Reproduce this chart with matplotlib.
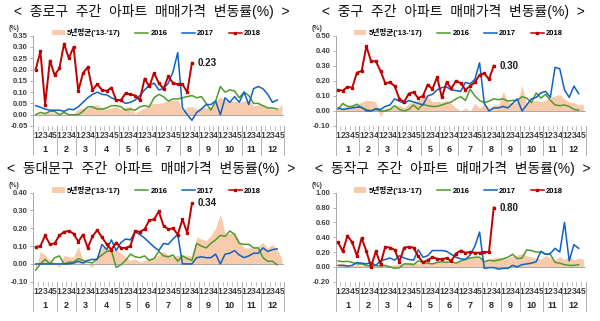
import numpy as np
import matplotlib
matplotlib.use("Agg")
import matplotlib.pyplot as plt
from matplotlib.lines import Line2D
from matplotlib.patches import Patch

plt.rcParams['font.family'] = ['Liberation Sans', 'Noto Sans CJK KR']

weeks_per_month = [5, 4, 4, 5, 4, 4, 5, 4, 4, 5, 4, 5]
month_labels = [str(m) for m in range(1, 13)]
week_labels = [str(w) for n in weeks_per_month for w in range(1, n + 1)]
legend_labels = ["5년평균('13-'17)", "2016", "2017", "2018"]

# 종로구
jongno_avg = [0.0, 0.005, 0.01, 0.012, 0.01, 0.005, 0.0, 0.0, 0.005, 0.025,
              0.03, 0.03, 0.04, 0.045, 0.03, 0.025, 0.03, 0.035, 0.025, 0.035,
              0.035, 0.005, 0.02, 0.03, 0.045, 0.05, 0.05, 0.055, 0.06, 0.065,
              0.065, 0.015, 0.035, 0.035, 0.025, 0.03, 0.03, 0.035, 0.06, 0.08,
              0.065, 0.06, 0.06, 0.055, 0.06, 0.065, 0.04, 0.045, 0.045, 0.035,
              0.025, 0.025, 0.045]
jongno_2016 = [0.0, 0.01, 0.005, 0.015, 0.015, 0.0, 0.01, 0.0, 0.0, 0.0,
               0.015, 0.035, 0.035, 0.025, 0.025, 0.03, 0.04, 0.04, 0.035, 0.02,
               0.025, 0.02, 0.035, 0.04, 0.035, 0.075, 0.09, 0.08, 0.06, 0.07,
               0.07, 0.075, 0.08, 0.085, 0.075, 0.08, 0.05, 0.02, 0.06, 0.125,
               0.10, 0.11, 0.105, 0.075, 0.10, 0.085, 0.05, 0.05, 0.04, 0.03,
               0.03, 0.025]
jongno_2017 = [0.04, 0.033, 0.025, 0.02, 0.02, 0.02, 0.015, 0.025, 0.022, 0.035,
               0.055, 0.075, 0.09, 0.10, 0.09, 0.088, 0.075, 0.065, 0.063, 0.05,
               0.055, 0.065, 0.085, 0.11, 0.13, 0.14, 0.11, 0.115, 0.14, 0.19,
               0.275, 0.03, 0.0, -0.025, 0.01, 0.025, 0.045, 0.045, 0.06, 0.0,
               0.075, 0.055, 0.08, 0.055, 0.10, 0.045, 0.115, 0.125, 0.115, 0.09,
               0.055, 0.065]
jongno_2018 = [0.20, 0.28, 0.045, 0.24, 0.175, 0.205, 0.315, 0.25, 0.30, 0.105,
               0.185, 0.21, 0.11, 0.135, 0.11, 0.105, 0.12, 0.065, 0.065, 0.095,
               0.09, 0.085, 0.065, 0.16, 0.125, 0.185, 0.14, 0.115, 0.17, 0.14,
               0.135, 0.135, 0.10, 0.23]

# 중구
junggu_avg = [0.01, 0.02, 0.03, 0.035, 0.04, 0.06, 0.07, 0.07, 0.06, -0.04,
              0.02, 0.02, 0.03, 0.04, 0.02, 0.05, 0.06, 0.07, 0.09, 0.10,
              0.06, 0.065, 0.06, 0.07, 0.05, 0.02, 0.0, 0.02, 0.0, 0.05,
              0.02, 0.05, 0.02, 0.04, 0.04, 0.13, 0.06, 0.05, 0.06, 0.17,
              0.05, 0.07, 0.07, 0.06, 0.07, 0.09, 0.10, 0.11, 0.08, 0.06,
              0.055, 0.04, 0.045]
junggu_2016 = [0.01, 0.05, 0.03, 0.03, 0.045, 0.02, 0.01, 0.0, 0.01, 0.0,
               0.0, 0.01, 0.035, 0.01, 0.0, 0.01, 0.04, 0.01, 0.045, 0.035,
               0.03, 0.03, 0.04, 0.05, 0.06, 0.08, 0.095, 0.07, 0.145, 0.10,
               0.07, 0.055, 0.065, 0.08, 0.075, 0.08, 0.065, 0.07, 0.07, 0.095,
               0.085, 0.055, 0.12, 0.085, 0.11, 0.07, 0.04, 0.035, 0.04, 0.03,
               0.01, 0.005]
junggu_2017 = [0.02, 0.01, 0.015, 0.02, 0.025, 0.025, 0.0, 0.0, 0.015, 0.01,
               0.03, 0.04, 0.08, 0.065, 0.05, 0.07, 0.06, 0.05, 0.04, 0.10,
               0.11, 0.14, 0.155, 0.16, 0.14, 0.135, 0.13, 0.19, 0.18, 0.21,
               0.32, 0.05, 0.0, 0.02, 0.02, 0.03, 0.02, 0.05, 0.08, 0.0,
               0.04, 0.08, 0.09, 0.12, 0.13, 0.09, 0.29, 0.28, 0.14, 0.09,
               0.165, 0.115]
junggu_2018 = [0.14, 0.135, 0.16, 0.155, 0.255, 0.265, 0.43, 0.33, 0.33, 0.265,
               0.185, 0.19, 0.165, 0.08, 0.06, 0.115, 0.125, 0.085, 0.10, 0.175,
               0.145, 0.225, 0.09, 0.19, 0.15, 0.20, 0.185, 0.14, 0.165, 0.19,
               0.24, 0.25, 0.21, 0.30]

# 동대문구
ddm_avg = [-0.03, 0.07, 0.05, 0.02, 0.01, -0.02, 0.05, 0.04, 0.04, 0.10,
           0.02, 0.0, -0.02, 0.05, 0.09, 0.10, 0.08, 0.08, 0.06, 0.04,
           0.02, 0.03, 0.01, 0.02, 0.03, 0.04, 0.05, 0.07, 0.05, 0.04,
           0.05, 0.05, 0.05, 0.04, 0.15, 0.14, 0.13, 0.16, 0.20, 0.28,
           0.17, 0.17, 0.18, 0.13, 0.09, 0.09, 0.09, 0.10, 0.12, 0.09,
           0.11, 0.08, 0.03]
ddm_2016 = [-0.035, 0.0, 0.025, 0.0, 0.035, 0.045, 0.0, 0.01, 0.01, 0.03,
            0.02, 0.01, 0.005, 0.03, 0.05, 0.07, 0.075, -0.02, -0.005, 0.02,
            0.055, 0.04, 0.035, 0.045, 0.02, 0.03, 0.07, 0.045, 0.04, 0.05,
            0.015, 0.045, 0.03, 0.02, 0.115, 0.10, 0.09, 0.115, 0.135, 0.16,
            0.155, 0.185, 0.165, 0.115, 0.11, 0.11, 0.09, 0.09, 0.035, 0.015,
            0.015, -0.005]
ddm_2017 = [0.0, 0.0, 0.0, 0.0, 0.0, 0.0, 0.0, 0.0, 0.005, 0.015,
            0.005, 0.02, 0.025, 0.025, 0.11, 0.08, 0.135, 0.075, 0.12, 0.14,
            0.135, 0.18, 0.165, 0.145, 0.12, 0.095, 0.075, 0.115, 0.11, 0.14,
            0.165, 0.0, 0.0, 0.0, 0.035, 0.04, 0.035, 0.035, 0.055, 0.0,
            0.055, 0.06, 0.075, 0.05, 0.035, 0.045, 0.06, 0.06, 0.09, 0.07,
            0.08, 0.085]
ddm_2018 = [0.095, 0.10, 0.16, 0.11, 0.115, 0.16, 0.18, 0.185, 0.17, 0.125,
            0.165, 0.09, 0.155, 0.19, 0.15, 0.11, 0.08, 0.12, 0.09, 0.09,
            0.10, 0.185, 0.18, 0.195, 0.245, 0.25, 0.295, 0.215, 0.195, 0.20,
            0.165, 0.25, 0.175, 0.34]

# 동작구
dongjak_avg = [0.04, 0.05, 0.03, 0.02, 0.03, 0.02, 0.02, 0.01, 0.02, 0.01,
               0.02, 0.02, 0.03, 0.04, 0.05, 0.06, 0.06, 0.05, 0.05, 0.06,
               0.05, 0.06, 0.07, 0.06, 0.04, 0.05, 0.09, 0.10, 0.12, 0.13,
               0.12, 0.08, 0.10, 0.12, 0.13, 0.11, 0.12, 0.14, 0.16, 0.18,
               0.15, 0.13, 0.12, 0.11, 0.15, 0.13, 0.10, 0.14, 0.10, 0.15,
               0.09, 0.12, 0.10]
dongjak_2016 = [0.08, 0.07, 0.075, 0.06, 0.04, 0.04, 0.02, 0.01, 0.02, 0.01,
                0.02, 0.0, -0.02, -0.01, 0.04, 0.04, 0.03, 0.08, 0.06, 0.05,
                0.04, 0.06, 0.07, 0.06, 0.07, 0.05, 0.08, 0.10, 0.12, 0.13,
                0.13, 0.07, 0.09, 0.08, 0.09, 0.11, 0.13, 0.17, 0.11, 0.12,
                0.23, 0.22, 0.20, 0.20, 0.17, 0.17, 0.06, 0.05, 0.03, 0.02,
                0.02, 0.03]
dongjak_2017 = [0.02, 0.02, 0.01, 0.02, 0.06, 0.05, 0.04, 0.06, 0.02, 0.08,
                0.10, 0.12, 0.09, 0.15, 0.12, 0.10, 0.09, 0.23, 0.13, 0.15,
                0.22, 0.22, 0.22, 0.21, 0.17, 0.13, 0.11, 0.10, 0.16, 0.28,
                0.47, -0.02, -0.01, -0.01, -0.03, -0.02, -0.02, 0.02, 0.0, 0.03,
                0.04, 0.05, 0.07, 0.21, 0.17, 0.18, 0.25, 0.20, 0.60, 0.08,
                0.30, 0.25]
dongjak_2018 = [0.33, 0.21, 0.42, 0.33, 0.15, 0.39, 0.21, 0.0, 0.21, 0.04,
                0.27, 0.26, 0.23, 0.07, 0.26, 0.27, 0.26, 0.14, 0.06, 0.09,
                0.13, 0.11, 0.10, 0.12, 0.08, 0.18, 0.22, 0.19, 0.20, 0.19,
                0.19, 0.20, 0.20, 0.80]

panels = [
    ("<  종로구  주간  아파트  매매가격  변동률(%)  >", jongno_avg, jongno_2016, jongno_2017, jongno_2018,
     [-0.05, 0.0, 0.05, 0.10, 0.15, 0.20, 0.25, 0.30, 0.35]),
    ("<  중구  주간  아파트  매매가격  변동률(%)  >", junggu_avg, junggu_2016, junggu_2017, junggu_2018,
     [-0.10, 0.0, 0.10, 0.20, 0.30, 0.40, 0.50]),
    ("<  동대문구  주간  아파트  매매가격  변동률(%)  >", ddm_avg, ddm_2016, ddm_2017, ddm_2018,
     [-0.10, 0.0, 0.10, 0.20, 0.30, 0.40]),
    ("<  동작구  주간  아파트  매매가격  변동률(%)  >", dongjak_avg, dongjak_2016, dongjak_2017, dongjak_2018,
     [-0.20, 0.0, 0.20, 0.40, 0.60, 0.80, 1.00]),
]

c_avg = '#F8CBAD'
c16 = '#4E9A2E'
c17 = '#0F62C0'
c18 = '#C00000'
gray = '#A6A6A6'

W, H = 600, 321
fig = plt.figure(figsize=(6, 3.21), dpi=100)
positions = [[0.0555, 0.6075, 0.4183, 0.2813], [0.5595, 0.6075, 0.4167, 0.2813],
             [0.0555, 0.1224, 0.4183, 0.2773], [0.5595, 0.1224, 0.4167, 0.2773]]
title_xy = [(0.2525, 0.965), (0.755, 0.965), (0.2525, 0.474), (0.755, 0.474)]

bounds = np.concatenate([[0], np.cumsum(weeks_per_month)]) - 0.5
centers = (bounds[:-1] + bounds[1:]) / 2

for i, (title, avg, y16, y17, y18, yticks) in enumerate(panels):
    ax = fig.add_axes(positions[i])
    ax_h = positions[i][3] * H
    ax.fill_between(range(len(avg)), avg, 0, color=c_avg, lw=0, zorder=1)
    ax.plot(range(len(y16)), y16, color=c16, lw=1.1, zorder=3)
    ax.plot(range(len(y17)), y17, color=c17, lw=1.1, zorder=4)
    ax.plot(range(len(y18)), y18, color=c18, lw=1.4, marker='s', ms=2.0, zorder=5)
    ax.axhline(0, color=gray, lw=0.7, zorder=2)

    ax.set_xlim(-0.5, 52.5)
    ax.set_ylim(yticks[0], yticks[-1])
    ax.set_yticks(yticks)
    ax.set_yticklabels(["%.2f" % v for v in yticks], fontsize=5.5, fontweight='bold', color='#404040')
    ax.tick_params(axis='y', length=2.5, width=0.6, color=gray, pad=1.5)
    ax.set_xticks(range(53))
    ax.set_xticklabels(week_labels, fontsize=6.2, fontweight='bold', color='#404040')
    ax.tick_params(axis='x', length=0, pad=3.5)
    for s in ['top', 'right', 'bottom']:
        ax.spines[s].set_visible(False)
    ax.spines['left'].set_color(gray)
    ax.spines['left'].set_linewidth(0.7)

    tr = ax.get_xaxis_transform()
    for b in np.arange(-0.5, 53, 1.0):
        ax.plot([b, b], [0, -4 / ax_h], color=gray, lw=0.5, transform=tr, clip_on=False)
    for b in bounds:
        ax.plot([b, b], [0, -29 / ax_h], color=gray, lw=0.6, transform=tr, clip_on=False)
    for c, m in zip(centers, month_labels):
        ax.text(c, -24 / ax_h, m, transform=tr, ha='center', va='center',
                fontsize=6.5, fontweight='bold', color='#262626')

    ax.text(-0.075, 1.085, "(%)", transform=ax.transAxes, ha='center', va='center',
            fontsize=5, fontweight='bold', color='#404040')

    last = len(y18) - 1
    ax.annotate("%.2f" % y18[last], xy=(last, y18[last]), xytext=(4, 0),
                textcoords='offset points', ha='left', va='center',
                fontsize=7, fontweight='bold', color='#1a1a1a')

    handles = [Patch(facecolor=c_avg, edgecolor='none'),
               Line2D([], [], color=c16, lw=1.1),
               Line2D([], [], color=c17, lw=1.1),
               Line2D([], [], color=c18, lw=1.1, marker='s', ms=2.0)]
    ax.legend(handles, legend_labels, ncol=4, loc='center', bbox_to_anchor=(0.49, 1.03),
              frameon=False, prop={'size': 5.5, 'weight': 'bold'}, handlelength=1.7,
              columnspacing=1.9, handletextpad=0.3, borderpad=0)

    fig.text(title_xy[i][0], title_xy[i][1], title, ha='center', va='center',
             fontsize=10, color='#111111')

fig.savefig("out.png", dpi=100)
